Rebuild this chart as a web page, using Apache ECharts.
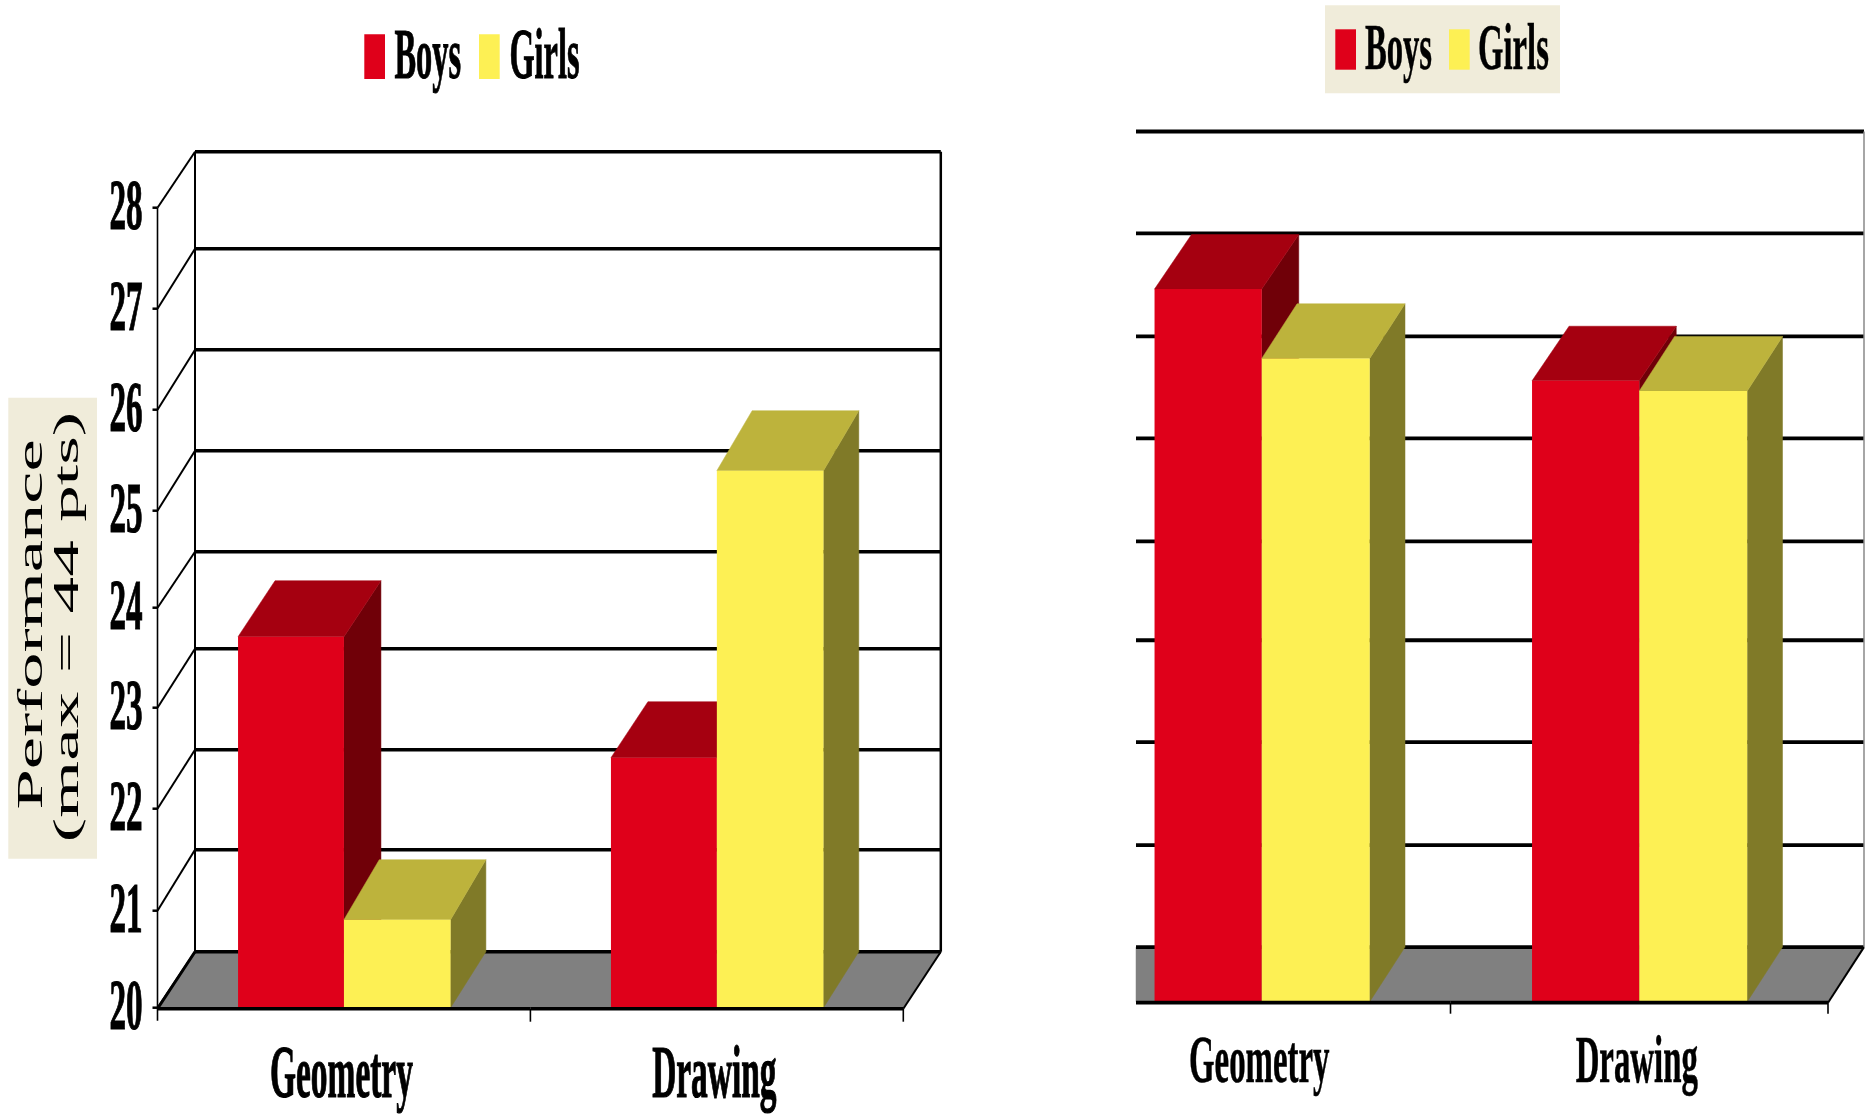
<!DOCTYPE html>
<html><head><meta charset="utf-8">
<style>html,body{margin:0;padding:0;background:#fff}#c{width:1865px;height:1114px}</style>
<script src="https://cdn.jsdelivr.net/npm/echarts@6/dist/echarts.min.js"></script>
</head><body><div id="c"></div>
<script>
const categories = ['Geometry', 'Drawing'];
const seriesNames = ['Boys', 'Girls'];
const yTicks = [20, 21, 22, 23, 24, 25, 26, 27, 28];
// Levels at which the drawn rules sit
const leftFrontRules = [20, 20.97, 21.99, 23, 24, 24.97, 25.98, 26.99, 28];
const leftBackRules = [20, 21.02, 22.02, 23.03, 24, 25.01, 26.02, 27.03, 28];
const rightBackRules = [20, 21, 22.01, 23.01, 23.98, 24.99, 25.99, 27, 28];
const boysLeft = [23.71, 22.50];
const girlsLeft = [20.88, 25.37];
const boysRight = [26.99, 26.09];
const girlsRight = [26.31, 25.99];
const yAxisTitle = ['Performance', '(max = 44 pts)'];

const FONT = 'Liberation Serif';
const RED = {front:'#DF001A', top:'#A50010', side:'#700008'};
const YEL = {front:'#FDF054', top:'#BDB33C', side:'#807A28'};
const BEIGE = '#F0ECDA';

const cfgL = {gi:0, dx:37.5, dy:56, clip:-1e4, grid:3.5, floor:3.5, labelY:1078, labelSize:73, labelSX:.458, leftAxis:true, wallW:2.5, wallC:'#000', tickB:13, labelDX:-2.5, weight:1.2, front:leftFrontRules, back:leftBackRules};
const cfgR = {gi:1, dx:36, dy:54.6, clip:1136, grid:3.8, floor:3.8, labelY:1065, labelSize:67, labelSX:.49, leftAxis:false, wallW:1.5, wallC:'#888', tickB:11, labelDX:-2.5, weight:.6, front:rightBackRules, back:rightBackRules};

function T(text, x, y, size, sx, bold, rotation, weight) {
  return {type:'text', x, y, scaleX:sx, rotation:rotation||0, silent:true,
    style:{text, fontFamily:FONT, fontSize:size, fontWeight:bold?'bold':'normal', fill:'#000', stroke:weight?'#000':null, lineWidth:weight||0, align:'center', verticalAlign:'middle'}};
}
function L(x1,y1,x2,y2,w,c){return {type:'line',silent:true,shape:{x1,y1,x2,y2},style:{stroke:c||'#000',lineWidth:w}};}
function P(points,fill){return {type:'polygon',silent:true,shape:{points},style:{fill,stroke:fill,lineWidth:.5}};}

function wall(cfg){
  return {type:'custom', xAxisIndex:cfg.gi, yAxisIndex:cfg.gi, silent:true, z:1, clip:false,
    data:yTicks.map((v,i)=>[0,v,cfg.front[i],cfg.back[i]]), encode:{x:0,y:1},
    renderItem(params,api){
      const cs=params.coordSys, v=api.value(1), fy=api.coord([0,api.value(2)])[1], by=api.coord([0,api.value(3)])[1]-cfg.dy;
      const fx=cs.x, fr=cs.x+cs.width, bx=Math.max(fx+cfg.dx,cfg.clip), br=fr+cfg.dx;
      const ch=[];
      if(v===yTicks[0]) ch.push(P([[bx,by],[br,by],[fr,fy],[Math.max(fx,cfg.clip),fy]],'#808080'));
      ch.push(L(bx,by,br,by,v===yTicks[0]?cfg.floor:cfg.grid));
      if(cfg.leftAxis){
        ch.push(L(fx,fy,fx+cfg.dx,by,2));
        ch.push(L(fx-5,fy,fx,fy,2.5));
        ch.push(T(String(v),cs.x-31.5,fy+2.5,72,.46,true,0,cfg.weight));
      }
      if(v===yTicks[yTicks.length-1]){
        const y0=api.coord([0,yTicks[0]])[1];
        if(cfg.leftAxis){
          ch.push(L(fx+cfg.dx,by,fx+cfg.dx,y0-cfg.dy,2));
          ch.push(L(fx,fy,fx,y0+13,1.6));
        }
        ch.push(L(br,by,br,y0-cfg.dy,cfg.wallW,cfg.wallC));
      }
      return {type:'group',children:ch};
    }};
}
function bars(cfg,vals,col,girl){
  const topDy = (cfg.gi===0&&girl)?60:cfg.dy;
  const ddx = girl?35.3:37;
  return {type:'custom', name:girl?seriesNames[1]:seriesNames[0], xAxisIndex:cfg.gi, yAxisIndex:cfg.gi, silent:true, z:3, clip:false,
    data:vals.map((v,i)=>[i,v]), encode:{x:0,y:1},
    renderItem(params,api){
      const i=api.value(0), p=api.coord([i,api.value(1)]), b=api.coord([i,yTicks[0]]), band=api.size([1,0])[0];
      const l=girl?p[0]:p[0]-band*.284, r=girl?p[0]+band*.286:p[0], t=p[1], y=b[1];
      return {type:'group',children:[
        P([[r,y],[r+ddx,y-cfg.dy],[r+ddx,t-topDy],[r,t]],col.side),
        P([[l,t],[l+ddx,t-topDy],[r+ddx,t-topDy],[r,t]],col.top),
        {type:'rect',silent:true,shape:{x:l,y:t,width:r-l,height:y-t},style:{fill:col.front}}
      ]};
    }};
}
function frame(cfg){
  return {type:'custom', xAxisIndex:cfg.gi, yAxisIndex:cfg.gi, silent:true, z:5, clip:false,
    data:categories.map((c,i)=>[i,yTicks[0]]), encode:{x:0,y:1},
    renderItem(params,api){
      const cs=params.coordSys,i=api.value(0),p=api.coord([i,yTicks[0]]),band=api.size([1,0])[0];
      const rx=p[0]+band/2, lx=Math.max(p[0]-band/2,cfg.clip), y=p[1]+1;
      const ch=[L(lx,y,rx,y,cfg.floor), L(rx,y,rx,y+cfg.tickB,1.6),
        T(categories[i],p[0]+cfg.labelDX,cfg.labelY,cfg.labelSize,cfg.labelSX,true,0,cfg.weight)];
      if(i===categories.length-1) ch.push(L(rx,y,rx+cfg.dx,y-cfg.dy-1,2,'#000'));
      if(i===0&&cfg.leftAxis) ch.push(L(cs.x,y,cs.x+cfg.dx,y-cfg.dy-1,3));
      return {type:'group',children:ch};
    }};
}
function legendEls(rx,ry,rw,rh,yx,tx1,tx2,ty,size,sx,w){
  return [
    {type:'rect',silent:true,shape:{x:rx,y:ry,width:rw,height:rh},style:{fill:RED.front}},
    {type:'rect',silent:true,shape:{x:yx,y:ry,width:rw,height:rh},style:{fill:YEL.front}},
    T(seriesNames[0],tx1,ty,size,sx,true,0,w),
    T(seriesNames[1],tx2,ty,size,sx,true,0,w)
  ];
}
const axes = (g)=>({
  x:{type:'category',gridIndex:g,data:categories,axisLine:{show:false},axisTick:{show:false},axisLabel:{show:false},splitLine:{show:false}},
  y:{type:'value',gridIndex:g,min:20,max:28,interval:1,axisLine:{show:false},axisTick:{show:false},axisLabel:{show:false},splitLine:{show:false}}
});
const chart = echarts.init(document.getElementById('c'),null,{renderer:'canvas'});
chart.setOption({
  animation:false, backgroundColor:'#fff',
  grid:[{left:157.5,top:207.7,width:745.8,height:800},{left:1073,top:186.1,width:755,height:815.6}],
  xAxis:[axes(0).x,axes(1).x], yAxis:[axes(0).y,axes(1).y],
  graphic:{elements:[
    {type:'rect',silent:true,shape:{x:8.3,y:397.7,width:88.7,height:461},style:{fill:BEIGE},z:0},
    T(yAxisTitle[0],33.2,624.5,35,2.07,false,Math.PI/2),
    T(yAxisTitle[1],68.5,627,35,2.095,false,Math.PI/2),
    ...legendEls(364.3,34.3,20.7,44.7,479,427.8,544.5,59.5,71,.456,1),
    {type:'rect',silent:true,shape:{x:1325,y:5.3,width:235,height:88},style:{fill:BEIGE}},
    ...legendEls(1335.3,29.3,20.7,40.4,1449,1398.5,1513.5,52,66,.495,.5)
  ]},
  series:[wall(cfgL),bars(cfgL,boysLeft,RED,false),bars(cfgL,girlsLeft,YEL,true),frame(cfgL),
          wall(cfgR),bars(cfgR,boysRight,RED,false),bars(cfgR,girlsRight,YEL,true),frame(cfgR)]
});
</script></body></html>
